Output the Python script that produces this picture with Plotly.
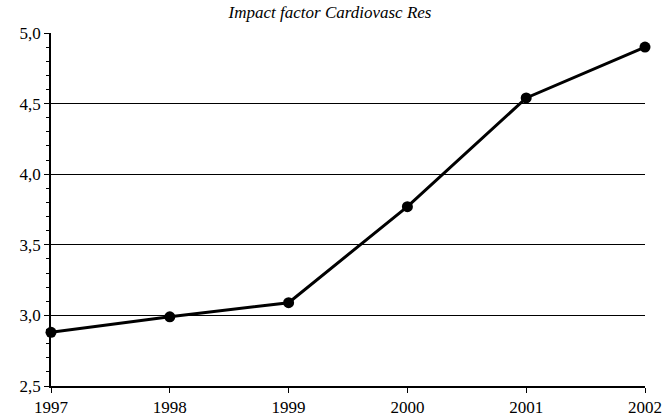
import plotly.graph_objects as go

years = [1997, 1998, 1999, 2000, 2001, 2002]
impact = [2.88, 2.99, 3.09, 3.77, 4.54, 4.90]
y_ticks = [2.5, 3.0, 3.5, 4.0, 4.5, 5.0]
y_labels = ["2,5", "3,0", "3,5", "4,0", "4,5", "5,0"]

fig = go.Figure()
fig.add_trace(go.Scatter(
    x=years, y=impact, mode="lines+markers",
    line=dict(color="black", width=3),
    marker=dict(color="black", size=11),
    cliponaxis=False, showlegend=False,
))
fig.update_layout(
    width=664, height=417,
    margin=dict(l=51, r=19, t=33, b=31, autoexpand=False),
    paper_bgcolor="white", plot_bgcolor="white",
    font=dict(family="Liberation Serif", color="black", size=16),
    title=dict(text="<i>Impact factor Cardiovasc Res</i>", x=0.497, xanchor="center",
               y=0.985, yanchor="top", font=dict(size=17, family="Liberation Serif")),
)
fig.update_xaxes(
    range=[1997, 2002], tickvals=years, ticktext=[str(y) for y in years],
    showline=True, linecolor="black", linewidth=2, showgrid=False, zeroline=False,
    ticks="outside", ticklen=5, tickcolor="black", tickfont=dict(size=17),
    automargin=False,
)
fig.update_yaxes(
    range=[2.5, 5.0], tickvals=y_ticks, ticktext=y_labels,
    showline=True, linecolor="black", linewidth=1.5,
    showgrid=True, gridcolor="black", gridwidth=1.2, zeroline=False,
    ticks="outside", ticklen=5, tickcolor="black", tickfont=dict(size=17),
    minor=dict(dtick=0.1, ticks="outside", ticklen=3, tickcolor="black", showgrid=False),
    automargin=False,
)
fig.write_html(
    "out.html",
    config={"displayModeBar": False},
    post_script="document.body.style.margin='0';document.body.style.overflow='hidden';",
)
